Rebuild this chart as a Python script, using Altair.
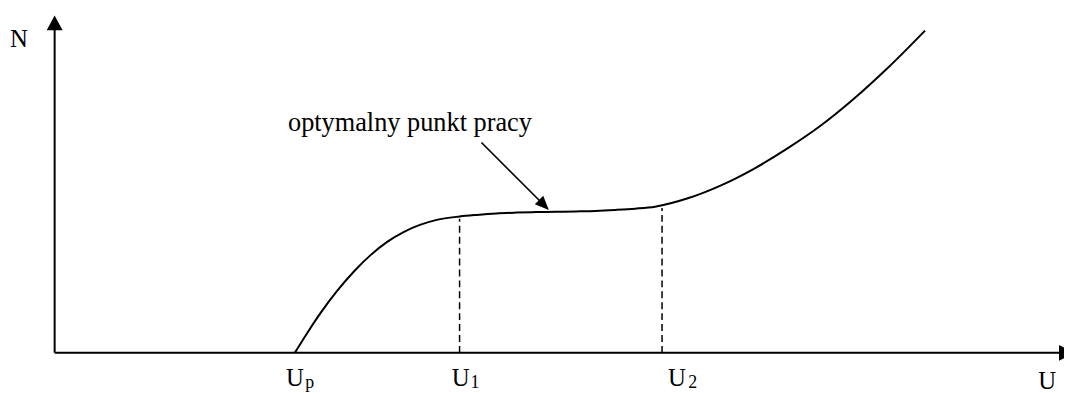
import altair as alt
import pandas as pd

# Curve N(U) (arbitrary units, origin at the axes' corner)
curve_u = [242, 255, 268, 285, 302, 318, 335, 352, 368, 385, 408, 425, 445,
           465, 485, 505, 525, 545, 565, 585, 605, 638, 672, 705, 738, 772,
           805, 838, 877]
curve_n = [0, 20.8, 40.3, 62.9, 82.5, 98.2, 111.8, 122, 128.9, 134, 137.4,
           139, 140.5, 141.3, 141.8, 142.1, 142.5, 143, 144, 145.3, 147.3,
           155.7, 169, 185.7, 205.7, 229, 255.7, 285.7, 324.7]

# Dashed guides at U1 and U2
guide_u = [408, 612]
guide_top = [135, 146]

# Axes extents
x_axis_end = 1017
y_axis_end = 332

# Arrow heads: (u, n, shape path, angle, size)
head_u = [0, 1019.5, 493]
head_n = [332.5, 0, 149]
head_shape = ["M0,-0.94L1,0.94L-1,0.94Z",
              "M0.94,0L-0.94,-1L-0.94,1Z",
              "M0,-1L0.857,1L-0.857,1Z"]
head_angle = [0, 0, 135]
head_size = [256, 256, 196]

# Annotation pointer line
pointer_u = [430]
pointer_n = [212]
pointer_u2 = [493]
pointer_n2 = [149]

# Labels
main_text = ["N", "U", "U", "U", "U"]
main_u = [-45, 991, 233, 400, 618]
main_n = [308, -36, -33, -33, -33]

sub_text = ["p", "1", "2"]
sub_u = [252.5, 419, 638.5]
sub_n = [-35, -35, -35]

note_text = ["optymalny punkt pracy"]
note_u = [358]
note_n = [224]

FONT = "Liberation Serif"

xs = alt.Scale(domain=[-47, 1017], nice=False, zero=False)
ys = alt.Scale(domain=[-39, 346], nice=False, zero=False)

curve_df = pd.DataFrame({"U": curve_u, "N": curve_n})
curve = alt.Chart(curve_df).mark_line(
    interpolate="monotone", color="black", strokeWidth=2
).encode(
    x=alt.X("U:Q", scale=xs, axis=None),
    y=alt.Y("N:Q", scale=ys, axis=None),
)

guide_df = pd.DataFrame({"U": guide_u, "N0": [0, 0], "N1": guide_top})
guides = alt.Chart(guide_df).mark_rule(
    color="black", strokeWidth=1.5, strokeDash=[7, 4]
).encode(
    x=alt.X("U:Q", scale=xs, axis=None),
    y=alt.Y("N0:Q", scale=ys, axis=None),
    y2="N1:Q",
)

axes_df = pd.DataFrame({
    "u0": [0, 0], "u1": [x_axis_end, 0],
    "n0": [0, 0], "n1": [0, y_axis_end],
})
axes = alt.Chart(axes_df).mark_rule(color="black", strokeWidth=2).encode(
    x=alt.X("u0:Q", scale=xs, axis=None),
    x2="u1:Q",
    y=alt.Y("n0:Q", scale=ys, axis=None),
    y2="n1:Q",
)

pointer_df = pd.DataFrame({"u0": pointer_u, "n0": pointer_n,
                           "u1": pointer_u2, "n1": pointer_n2})
pointer = alt.Chart(pointer_df).mark_rule(color="black", strokeWidth=1.6).encode(
    x=alt.X("u0:Q", scale=xs, axis=None),
    x2="u1:Q",
    y=alt.Y("n0:Q", scale=ys, axis=None),
    y2="n1:Q",
)

head_df = pd.DataFrame({"U": head_u, "N": head_n, "shape": head_shape,
                        "angle": head_angle, "size": head_size})
heads = alt.Chart(head_df).mark_point(
    filled=True, color="black", opacity=1, strokeWidth=0
).encode(
    x=alt.X("U:Q", scale=xs, axis=None),
    y=alt.Y("N:Q", scale=ys, axis=None),
    shape=alt.Shape("shape:N", scale=None, legend=None),
    angle=alt.Angle("angle:Q", scale=None),
    size=alt.Size("size:Q", scale=None, legend=None),
)

main_df = pd.DataFrame({"U": main_u, "N": main_n, "t": main_text})
main_labels = alt.Chart(main_df).mark_text(
    font=FONT, fontSize=25, color="black", align="left", baseline="alphabetic"
).encode(
    x=alt.X("U:Q", scale=xs, axis=None),
    y=alt.Y("N:Q", scale=ys, axis=None),
    text="t:N",
)

sub_df = pd.DataFrame({"U": sub_u, "N": sub_n, "t": sub_text})
sub_labels = alt.Chart(sub_df).mark_text(
    font=FONT, fontSize=18, color="black", align="left", baseline="alphabetic"
).encode(
    x=alt.X("U:Q", scale=xs, axis=None),
    y=alt.Y("N:Q", scale=ys, axis=None),
    text="t:N",
)

note_df = pd.DataFrame({"U": note_u, "N": note_n, "t": note_text})
note = alt.Chart(note_df).mark_text(
    font=FONT, fontSize=26.5, color="black", align="center", baseline="alphabetic"
).encode(
    x=alt.X("U:Q", scale=xs, axis=None),
    y=alt.Y("N:Q", scale=ys, axis=None),
    text="t:N",
)

chart = alt.layer(
    axes, guides, curve, pointer, heads, main_labels, sub_labels, note
).properties(
    width=1064, height=385, padding=0, autosize="none", background="white"
).configure_view(strokeWidth=0)

chart.save("out.html", embed_options={"renderer": "svg", "actions": False})
